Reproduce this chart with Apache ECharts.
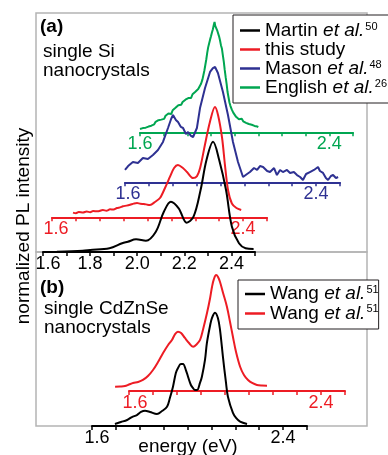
<!DOCTYPE html>
<html><head><meta charset="utf-8">
<script src="https://cdn.jsdelivr.net/npm/echarts@6/dist/echarts.min.js"></script>
<style>html,body{margin:0;padding:0;background:#fff}#c{width:388px;height:455px}</style>
</head><body><div id="c"></div>
<script>
// ---------- DATA ----------
const labelsAll = ['1.6','1.8','2.0','2.2','2.4'];
const labelsEnds = ['1.6','2.4'];

// Panel (a): single Si nanocrystals (each on its own offset energy axis)
const martinE = [1.659,1.768,1.800,1.882,1.936,1.960,1.995,2.037,2.079,2.113,2.143,2.176,2.210,2.239,2.269,2.294,2.322,2.348,2.377,2.402,2.432,2.460,2.494];
const martinI = [0.003,0.012,0.018,0.034,0.079,0.093,0.115,0.102,0.184,0.365,0.456,0.396,0.266,0.320,0.562,0.834,1.000,0.834,0.562,0.229,0.079,0.034,0.027];

const studyE = [1.688,1.700,1.712,1.730,1.745,1.760,1.772,1.790,1.813,1.828,1.843,1.858,1.872,1.885,1.897,1.912,1.927,1.942,1.956,1.970,1.985,2.000,2.010,2.031,2.052,2.073,2.094,2.111,2.127,2.148,2.165,2.190,2.207,2.220,2.240,2.261,2.282,2.295,2.312,2.324,2.337,2.353,2.372,2.392];
const studyI = [0.042,0.036,0.048,0.044,0.052,0.046,0.056,0.054,0.066,0.060,0.072,0.070,0.084,0.090,0.100,0.106,0.114,0.124,0.130,0.122,0.121,0.114,0.112,0.139,0.175,0.266,0.368,0.447,0.474,0.447,0.411,0.356,0.374,0.447,0.655,0.864,1.000,0.927,0.719,0.474,0.245,0.125,0.084,0.066];

const masonE = [1.600,1.613,1.633,1.654,1.675,1.696,1.717,1.738,1.759,1.780,1.793,1.801,1.813,1.822,1.834,1.843,1.855,1.864,1.876,1.885,1.901,1.914,1.935,1.956,1.968,1.977,1.989,2.010,2.031,2.052,2.073,2.094,2.111,2.123,2.140,2.153,2.165,2.178,2.195,2.207,2.224,2.236,2.249,2.261,2.278,2.291,2.307,2.320,2.333,2.345,2.358,2.374,2.391,2.408,2.416,2.429,2.441,2.450,2.462,2.471,2.483,2.492];
const masonI = [0.107,0.141,0.176,0.167,0.211,0.202,0.237,0.280,0.350,0.471,0.549,0.584,0.541,0.523,0.480,0.471,0.419,0.436,0.402,0.393,0.471,0.644,0.818,0.957,0.991,1.000,0.948,0.783,0.584,0.350,0.176,0.046,0.072,0.089,0.124,0.107,0.141,0.133,0.098,0.089,0.124,0.063,0.107,0.089,0.107,0.081,0.089,0.063,0.046,0.020,0.072,0.089,0.107,0.133,0.098,0.081,0.037,0.020,0.055,0.063,0.037,0.046];

const englishE = [1.600,1.606,1.612,1.618,1.624,1.630,1.636,1.642,1.648,1.654,1.660,1.666,1.672,1.678,1.684,1.690,1.696,1.702,1.708,1.714,1.720,1.726,1.732,1.738,1.744,1.750,1.756,1.762,1.768,1.774,1.780,1.786,1.792,1.798,1.804,1.810,1.816,1.822,1.828,1.834,1.840,1.846,1.852,1.858,1.864,1.868,1.872,1.876,1.880,1.884,1.888,1.892,1.896,1.900,1.904,1.908,1.912,1.915,1.918,1.922,1.926,1.930,1.934,1.938,1.942,1.946,1.950,1.954,1.958,1.962,1.966,1.970,1.974,1.978,1.982,1.988,1.994,2.000,2.006,2.012,2.018,2.024,2.030,2.036,2.042,2.048,2.054,2.060,2.066,2.072,2.078,2.084,2.090,2.096,2.100];
const englishI = [0.030,0.045,0.038,0.050,0.042,0.058,0.052,0.068,0.060,0.078,0.072,0.095,0.085,0.110,0.125,0.115,0.132,0.122,0.150,0.140,0.170,0.178,0.165,0.200,0.192,0.222,0.212,0.245,0.262,0.250,0.275,0.268,0.296,0.288,0.310,0.322,0.312,0.345,0.338,0.368,0.360,0.392,0.405,0.440,0.480,0.520,0.560,0.610,0.660,0.720,0.770,0.805,0.840,0.870,0.905,0.935,0.975,1.000,0.965,0.960,0.925,0.910,0.870,0.835,0.790,0.760,0.700,0.640,0.565,0.500,0.440,0.365,0.318,0.270,0.240,0.205,0.178,0.160,0.140,0.128,0.118,0.112,0.122,0.100,0.108,0.086,0.095,0.075,0.088,0.068,0.080,0.058,0.070,0.052,0.048];

// Panel (b): single CdZnSe nanocrystals
const wangBlackE = [1.696,1.721,1.747,1.767,1.788,1.805,1.822,1.843,1.872,1.893,1.914,1.926,1.939,1.951,1.960,1.972,1.981,1.993,2.002,2.014,2.023,2.031,2.040,2.052,2.060,2.073,2.081,2.094,2.102,2.115,2.127,2.136,2.148,2.161,2.169,2.190,2.203,2.220,2.249];
const wangBlackI = [0.018,0.035,0.053,0.079,0.097,0.124,0.135,0.124,0.106,0.132,0.170,0.247,0.347,0.468,0.512,0.547,0.547,0.494,0.435,0.362,0.335,0.318,0.318,0.380,0.435,0.583,0.733,0.883,0.953,1.000,0.953,0.847,0.612,0.380,0.259,0.115,0.071,0.038,0.018];

const wangRedE = [1.542,1.563,1.583,1.600,1.617,1.638,1.658,1.679,1.700,1.721,1.742,1.763,1.779,1.792,1.804,1.817,1.833,1.850,1.867,1.883,1.896,1.908,1.925,1.938,1.946,1.954,1.963,1.971,1.979,1.992,2.008,2.021,2.033,2.046,2.063,2.079,2.096,2.113,2.133,2.154,2.175];
const wangRedI = [0.037,0.039,0.043,0.056,0.069,0.078,0.095,0.129,0.181,0.250,0.328,0.397,0.440,0.491,0.511,0.500,0.457,0.414,0.382,0.405,0.440,0.526,0.672,0.802,0.899,0.966,1.000,0.983,0.942,0.845,0.727,0.595,0.468,0.336,0.209,0.138,0.095,0.069,0.052,0.047,0.046];

// ---------- STYLE / LAYOUT ----------
const F = '"Liberation Sans", Arial, Helvetica, sans-serif';
const C = {black:'#000000', red:'#ed1c24', blue:'#2e3192', green:'#00a651'};
const frameGray = '#b4b4b4';

const zip = (a,b) => a.map((v,i)=>[v,b[i]]);

// ext: energy below 1.6 that the (hidden) data axis must reach (curve starts left of the drawn axis)
const plots = [
  {name:'English et al.', E:englishE, I:englishI, color:C.green, labels:labelsEnds, grid:{left:140, top:22, width:213, height:110.3}, smooth:false, pad:0},
  {name:'Mason et al.', E:masonE, I:masonI, color:C.blue, labels:labelsEnds, grid:{left:125, top:67, width:215, height:115.3}, smooth:false, pad:6},
  {name:'this study', E:studyE, I:studyI, color:C.red, labels:labelsEnds, grid:{left:52, top:107, width:215, height:110.3}, smooth:0.3, pad:8},
  {name:'Martin et al.', E:martinE, I:martinI, color:C.black, labels:labelsAll, grid:{left:43, top:141.7, width:212, height:110.3}, smooth:0.35, pad:10},
  {name:'Wang et al. (red)', E:wangRedE, I:wangRedI, color:C.red, labels:labelsEnds, grid:{left:129, top:275, width:216, height:116}, smooth:0.35, ext:1.5, pad:12},
  {name:'Wang et al. (black)', E:wangBlackE, I:wangBlackI, color:C.black, labels:labelsEnds, grid:{left:92, top:312.7, width:215, height:113.3}, smooth:0.35, pad:10}
];

const grid=[], xAxis=[], yAxis=[], series=[];
function addAxisGrid(p, g, min, showAxis){
  const i = grid.length;
  grid.push(Object.assign({show:false, containLabel:false, outerBoundsMode:'none'}, g));
  xAxis.push({
    type:'value', gridIndex:i, min:min, max:2.5, interval:0.1, show:showAxis,
    splitLine:{show:false},
    axisLine:{show:showAxis, onZero:false, lineStyle:{color:p.color, width:2}},
    axisTick:{show:showAxis, length:4, lineStyle:{color:p.color, width:1.5}},
    axisLabel:{
      show:showAxis, margin:3, color:p.color, fontSize:18, fontFamily:F,
      formatter:(v)=>{const s=(Math.round(v*10)/10).toFixed(1); if(!p.labels.includes(s)) return ''; return s==='1.6' ? '{f|1.6}' : s;},
      rich:{f:{color:p.color, fontSize:18, fontFamily:F, padding:[0,0,0,p.pad]}}
    }
  });
  yAxis.push({type:'value', gridIndex:i, min:0, max:1, show:false});
  return i;
}
plots.forEach((p)=>{
  const axisIdx = addAxisGrid(p, p.grid, 1.6, true);
  let dataIdx = axisIdx;
  if (p.ext) {
    const pxPerEV = p.grid.width / 0.9;
    const g2 = Object.assign({}, p.grid, {left:p.grid.left - (1.6-p.ext)*pxPerEV, width:p.grid.width + (1.6-p.ext)*pxPerEV});
    dataIdx = addAxisGrid(p, g2, p.ext, false);
  }
  series.push({
    name:p.name, type:'line', xAxisIndex:dataIdx, yAxisIndex:dataIdx, data:zip(p.E,p.I),
    showSymbol:false, symbol:'none', smooth:p.smooth, clip:false,
    lineStyle:{color:p.color, width:2}, itemStyle:{color:p.color}, z:2+series.length, silent:true
  });
});

const legendText = {
  'Martin et al.':'{n|Martin }{i|et al.}{s|50}',
  'this study':'{n|this study}',
  'Mason et al.':'{n|Mason }{i|et al.}{s|48}',
  'English et al.':'{n|English }{i|et al.}{s|26}',
  'Wang et al. (black)':'{n|Wang }{i|et al.}{s|51}',
  'Wang et al. (red)':'{n|Wang }{i|et al.}{s|51}'
};
function rich(lh){
  return {
    n:{fontSize:19, fontFamily:F, color:'#000', lineHeight:lh},
    i:{fontSize:19, fontFamily:F, color:'#000', fontStyle:'italic', lineHeight:lh},
    s:{fontSize:11, fontFamily:F, color:'#000', lineHeight:11, verticalAlign:'top', padding:[0,0,0,1]}
  };
}
const legendBase = {
  orient:'vertical', icon:'rect', itemWidth:20, itemHeight:2.5, itemGap:0,
  borderColor:'#231f20', borderWidth:1, borderRadius:0, backgroundColor:'#fff',
  selectedMode:false, formatter:(n)=>legendText[n]
};

const option = {
  animation:false,
  backgroundColor:'#fff',
  grid, xAxis, yAxis, series,
  legend:[
    Object.assign({}, legendBase, {left:233, top:15, padding:[6,30,6,7],
      data:['Martin et al.','this study','Mason et al.','English et al.'],
      textStyle:{rich:rich(17.7)}}),
    Object.assign({}, legendBase, {left:238, top:280, padding:[4,0,6,7],
      data:['Wang et al. (black)','Wang et al. (red)'],
      textStyle:{rich:rich(20)}})
  ],
  graphic:[
    {type:'rect', z:-10, shape:{x:36, y:13, width:331, height:239}, style:{fill:'none', stroke:frameGray, lineWidth:1.5}},
    {type:'rect', z:-10, shape:{x:36, y:252, width:331, height:174}, style:{fill:'none', stroke:frameGray, lineWidth:1.5}},
    {type:'text', x:40, y:27, style:{text:'(a)', fontSize:19, fontWeight:'bold', fontFamily:F, fill:'#000', verticalAlign:'middle'}},
    {type:'text', x:43, y:52, style:{text:'single Si', fontSize:19, fontFamily:F, fill:'#000', verticalAlign:'middle'}},
    {type:'text', x:43, y:71, style:{text:'nanocrystals', fontSize:19, fontFamily:F, fill:'#000', verticalAlign:'middle'}},
    {type:'text', x:40, y:287.5, style:{text:'(b)', fontSize:19, fontWeight:'bold', fontFamily:F, fill:'#000', verticalAlign:'middle'}},
    {type:'text', x:44, y:309, style:{text:'single CdZnSe', fontSize:19, fontFamily:F, fill:'#000', verticalAlign:'middle'}},
    {type:'text', x:44, y:328, style:{text:'nanocrystals', fontSize:19, fontFamily:F, fill:'#000', verticalAlign:'middle'}},
    {type:'text', x:188, y:447, style:{text:'energy (eV)', fontSize:19, fontFamily:F, fill:'#000', align:'center', verticalAlign:'middle'}},
    {type:'text', x:24, y:226, rotation:Math.PI/2, style:{text:'normalized PL intensity', fontSize:19, fontFamily:F, fill:'#000', align:'center', verticalAlign:'middle'}}
  ]
};
const chart = echarts.init(document.getElementById('c'), null, {renderer:'canvas'});
chart.setOption(option);
</script>
</body></html>
